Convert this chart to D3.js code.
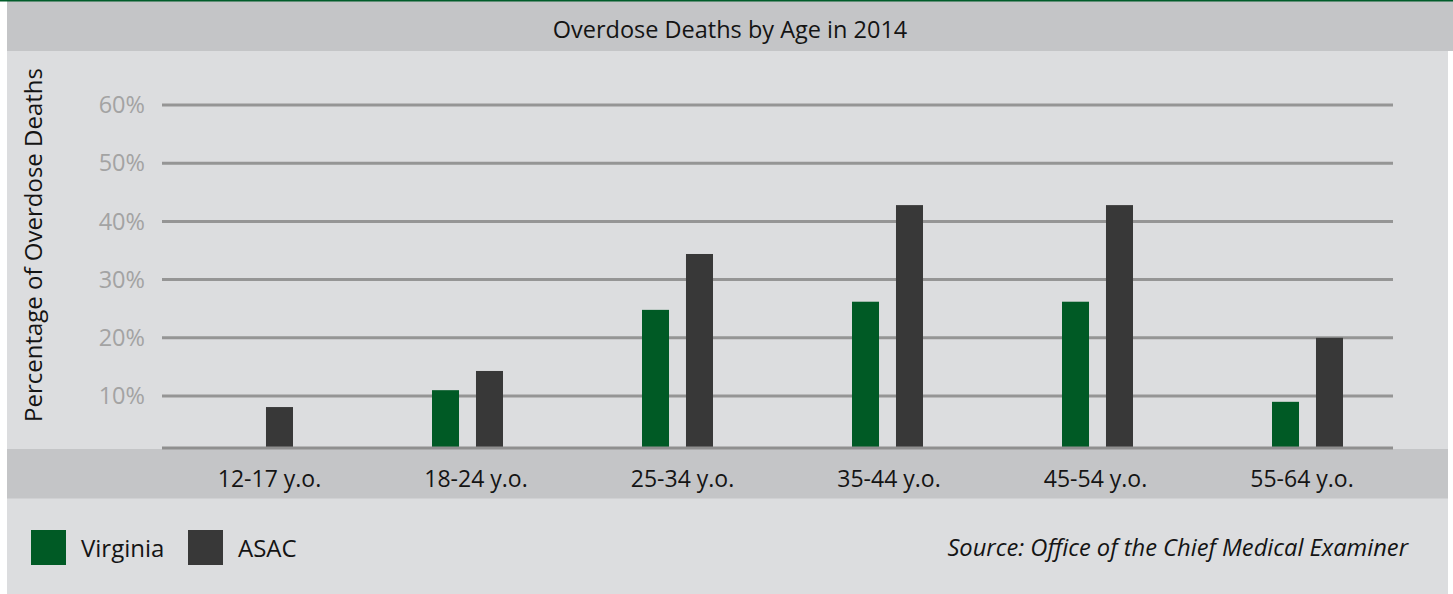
<!DOCTYPE html>
<html>
<head>
<meta charset="utf-8">
<script src="https://cdn.jsdelivr.net/npm/d3@7"></script>
<style>
  html, body { margin: 0; padding: 0; background: #ffffff; }
  svg { display: block; }
  text { font-family: "Open Sans", "Noto Sans", sans-serif; }
</style>
</head>
<body>
<svg id="chart" width="1453" height="594"></svg>
<script>
// Age groups and share of overdose deaths (%) in 2014
const ageGroups = ["12-17 y.o.", "18-24 y.o.", "25-34 y.o.", "35-44 y.o.", "45-54 y.o.", "55-64 y.o."];
const virginia  = [0, 11.0, 24.8, 26.2, 26.2, 9.0];
const asac      = [8.1, 14.3, 34.4, 42.8, 42.8, 20.0];
const seriesNames = ["Virginia", "ASAC"];
const yTicks = [10, 20, 30, 40, 50, 60];

const W = 1453, H = 594;
const colors = { Virginia: "#005a25", ASAC: "#383838" };
const ink = "#141414";

const svg = d3.select("#chart");

// panel backgrounds
svg.append("rect").attr("x", 7).attr("y", 0).attr("width", W - 7).attr("height", 51).attr("fill", "#c4c5c7");
svg.append("rect").attr("x", 7).attr("y", 51).attr("width", 1441).attr("height", H - 51).attr("fill", "#dcdddf");
svg.append("rect").attr("x", 0).attr("y", 0).attr("width", W).attr("height", 1.5).attr("fill", "#005d2a");

// title
svg.append("text")
  .attr("x", 730).attr("y", 38)
  .attr("text-anchor", "middle")
  .attr("font-size", 23.5)
  .attr("fill", ink)
  .text("Overdose Deaths by Age in 2014");

// scales
const x0 = d3.scaleBand().domain(ageGroups).range([152.5, 1412.5]).padding(0);
const x1 = d3.scaleBand().domain(seriesNames).range([-35.5, 35.5]).paddingInner(0.386).paddingOuter(0);
const y = d3.scaleLinear().domain([0, 60]).range([454.2, 105]);

// gridlines
svg.append("g").selectAll("line").data(yTicks).join("line")
  .attr("x1", 162).attr("x2", 1393)
  .attr("y1", d => y(d)).attr("y2", d => y(d))
  .attr("stroke", "#959595").attr("stroke-width", 3);

// y tick labels
svg.append("g").selectAll("text").data(yTicks).join("text")
  .attr("x", 145).attr("y", d => y(d))
  .attr("dy", "0.35em")
  .attr("text-anchor", "end")
  .attr("font-size", 23.5)
  .attr("fill", "#a3a3a3")
  .text(d => d + "%");

// y axis title
svg.append("text")
  .attr("transform", "translate(42,245) rotate(-90)")
  .attr("text-anchor", "middle")
  .attr("font-size", 24)
  .attr("fill", ink)
  .text("Percentage of Overdose Deaths");

// bars
const rows = ageGroups.map((g, i) => ({ group: g, values: [
  { key: "Virginia", value: virginia[i] },
  { key: "ASAC", value: asac[i] }
]}));

const groups = svg.append("g").selectAll("g").data(rows).join("g")
  .attr("transform", d => `translate(${x0(d.group) + x0.bandwidth() / 2},0)`);

groups.selectAll("rect").data(d => d.values.filter(v => v.value > 0)).join("rect")
  .attr("x", d => x1(d.key))
  .attr("width", x1.bandwidth())
  .attr("y", d => y(d.value))
  .attr("height", d => y(0) - y(d.value))
  .attr("fill", d => colors[d.key]);

// category band below the plot
svg.append("rect").attr("x", 7).attr("y", 449).attr("width", 1441).attr("height", 49.5).attr("fill", "#c4c5c7");
svg.append("line").attr("x1", 162).attr("x2", 1393).attr("y1", 448).attr("y2", 448)
  .attr("stroke", "#8f8f8f").attr("stroke-width", 3);

// category labels
const xl = d3.scaleBand().domain(ageGroups).range([166.25, 1405.25]);
const xAxis = d3.axisBottom(xl).tickSize(0).tickPadding(0);
const xg = svg.append("g").attr("transform", "translate(0,487)").call(xAxis);
xg.select(".domain").remove();
xg.selectAll("text")
  .attr("font-size", 23)
  .attr("fill", ink)
  .attr("dy", "0")
  .style("font-family", "'Open Sans', 'Noto Sans', sans-serif");

// legend
const legend = svg.append("g").selectAll("g").data(seriesNames).join("g")
  .attr("transform", (d, i) => `translate(${i === 0 ? 31 : 188},530)`);
legend.append("rect").attr("width", 35).attr("height", 35).attr("fill", d => colors[d]);
legend.append("text").attr("x", 50).attr("y", 27)
  .attr("font-size", 24).attr("fill", ink).text(d => d);

// source note
svg.append("text")
  .attr("x", 1408).attr("y", 556)
  .attr("text-anchor", "end")
  .attr("font-size", 23.7)
  .attr("font-style", "italic")
  .attr("fill", ink)
  .text("Source: Office of the Chief Medical Examiner");
</script>
</body>
</html>
